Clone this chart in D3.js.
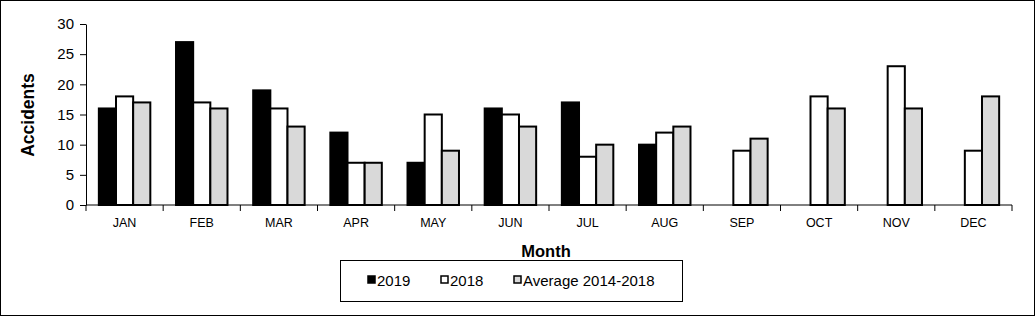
<!DOCTYPE html>
<html>
<head>
<meta charset="utf-8">
<script src="https://cdn.jsdelivr.net/npm/d3@7"></script>
<style>
  body { margin: 0; background: #fff; }
  svg { display: block; font-family: "Liberation Sans", Arial, sans-serif; }
</style>
</head>
<body>
<div id="chart"></div>
<script>
const months = ["JAN", "FEB", "MAR", "APR", "MAY", "JUN", "JUL", "AUG", "SEP", "OCT", "NOV", "DEC"]
const seriesNames = ["2019", "2018", "Average 2014-2018"]
const values2019 = [16, 27, 19, 12, 7, 16, 17, 10, null, null, null, null]
const values2018 = [18, 17, 16, 7, 15, 15, 8, 12, 9, 18, 23, 9]
const valuesAvg = [17, 16, 13, 7, 9, 13, 10, 13, 11, 16, 16, 18]
const yTicks = [0, 5, 10, 15, 20, 25, 30]
const colors = ["#000000", "#ffffff", "#d9d9d9"]

const W = 1035, H = 316

const svg = d3.select("#chart")
    .append("svg")
    .attr("width", W)
    .attr("height", H)

// outer frame
svg.append("rect")
    .attr("x", 0.5).attr("y", 0.5)
    .attr("width", W - 1).attr("height", H - 1)
    .attr("fill", "none").attr("stroke", "#000")

const plotLeft = 86, plotRight = 1012, plotTop = 24, plotBottom = 205

const x0 = d3.scaleBand()
    .domain(months)
    .range([plotLeft, plotRight])
    .paddingInner(0.333)
    .paddingOuter(0.1665)

const x1 = d3.scaleBand()
    .domain(seriesNames)
    .range([0, x0.bandwidth()])

const y = d3.scaleLinear()
    .domain([0, 30])
    .range([plotBottom, plotTop])

const table = months.map((m, i) => ({
    month: m,
    vals: [values2019[i], values2018[i], valuesAvg[i]]
}))

// bars
const groups = svg.append("g").selectAll("g")
    .data(table)
    .join("g")
    .attr("transform", d => `translate(${x0(d.month)},0)`)

groups.selectAll("rect")
    .data(d => d.vals.map((v, k) => ({ s: seriesNames[k], v: v, k: k })).filter(e => e.v != null))
    .join("rect")
    .attr("x", d => x1(d.s))
    .attr("y", d => y(d.v))
    .attr("width", x1.bandwidth())
    .attr("height", d => y(0) - y(d.v))
    .attr("fill", d => colors[d.k])
    .attr("stroke", "#000")
    .attr("stroke-width", 2)

// y axis
const yAxis = svg.append("g")
    .attr("transform", `translate(${plotLeft},0)`)
    .call(d3.axisLeft(y).tickValues(yTicks).tickSize(6).tickSizeOuter(0))
yAxis.select(".domain").attr("stroke", "#000")
yAxis.selectAll("text")
    .attr("font-size", 15)
    .attr("font-family", "Liberation Sans, Arial, sans-serif")
    .attr("fill", "#000")
    .attr("x", -12)

// x axis: ticks at category boundaries
const xAxisG = svg.append("g")
    .attr("transform", `translate(0,${plotBottom})`)
xAxisG.append("line")
    .attr("x1", plotLeft).attr("x2", plotRight)
    .attr("stroke", "#000")
const bounds = months.map(m => x0(m) - x0.step() * x0.paddingInner() / 2).concat([plotRight])
xAxisG.selectAll("line.tick")
    .data(bounds)
    .join("line")
    .attr("class", "tick")
    .attr("x1", d => d).attr("x2", d => d)
    .attr("y1", 0).attr("y2", 6)
    .attr("stroke", "#000")
xAxisG.selectAll("text")
    .data(months)
    .join("text")
    .attr("x", d => x0(d) + x0.bandwidth() / 2)
    .attr("y", 22)
    .attr("text-anchor", "middle")
    .attr("font-size", 12.5)
    .text(d => d)

// axis titles
svg.append("text")
    .attr("transform", `translate(34,115) rotate(-90)`)
    .attr("text-anchor", "middle")
    .attr("font-size", 17.5)
    .attr("font-weight", "bold")
    .text("Accidents")

svg.append("text")
    .attr("x", 546)
    .attr("y", 257)
    .attr("text-anchor", "middle")
    .attr("font-size", 16.5)
    .attr("font-weight", "bold")
    .text("Month")

// legend
const legend = svg.append("g")
legend.append("rect")
    .attr("x", 340.5).attr("y", 260.5)
    .attr("width", 342).attr("height", 41)
    .attr("fill", "#fff").attr("stroke", "#000")

const legendX = [368, 441, 514]
seriesNames.forEach((s, k) => {
    legend.append("rect")
        .attr("x", legendX[k]).attr("y", 276)
        .attr("width", 7).attr("height", 7)
        .attr("fill", colors[k])
        .attr("stroke", "#000")
        .attr("stroke-width", 1.5)
    legend.append("text")
        .attr("x", legendX[k] + 9)
        .attr("y", 286)
        .attr("font-size", 15)
        .text(s)
})
</script>
</body>
</html>
